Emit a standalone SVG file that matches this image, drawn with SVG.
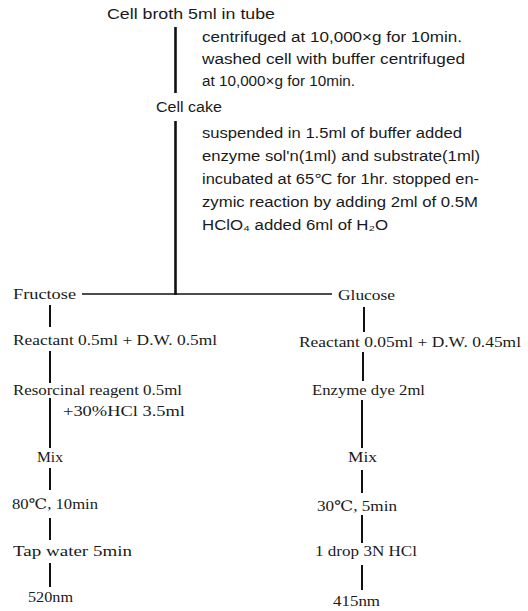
<svg xmlns="http://www.w3.org/2000/svg" width="528" height="611" viewBox="0 0 528 611">
<style>
.bg{fill:#ffffff}
.s{font-family:"Liberation Sans","DejaVu Sans",sans-serif;font-size:14px;fill:#1a1a1a}
.r{font-family:"Liberation Serif","DejaVu Serif",serif;font-size:14.5px;fill:#1a1a1a}
.c line{stroke:#111;stroke-linecap:butt}
.thick{stroke-width:2.6}
.mid{stroke-width:2}
.thin{stroke-width:1.6}
</style>
<rect class="bg" x="0" y="0" width="528" height="611"/>
<g class="c" id="connectors">
  <line class="thick" x1="175.5" y1="27" x2="175.5" y2="93"/>
  <line class="thick" x1="175.5" y1="121" x2="175.5" y2="295"/>
  <line class="thin" x1="82" y1="294" x2="332" y2="294"/>
  <line class="mid" x1="50" y1="305" x2="50" y2="327"/>
  <line class="mid" x1="50" y1="351" x2="50" y2="383"/>
  <line class="mid" x1="50" y1="398" x2="50" y2="448"/>
  <line class="mid" x1="50" y1="468" x2="50" y2="490"/>
  <line class="mid" x1="50" y1="518" x2="50" y2="540"/>
  <line class="mid" x1="50" y1="563" x2="50" y2="587"/>
  <line class="mid" x1="364" y1="307" x2="364" y2="332"/>
  <line class="mid" x1="363" y1="352" x2="363" y2="381"/>
  <line class="mid" x1="362" y1="400" x2="362" y2="448"/>
  <line class="mid" x1="362" y1="470" x2="362" y2="493"/>
  <line class="mid" x1="362" y1="515" x2="362" y2="543"/>
  <line class="mid" x1="362" y1="565" x2="362" y2="590"/>
</g>
<g id="cell-broth"><text class="s" x="107" y="19" textLength="168" lengthAdjust="spacingAndGlyphs">Cell broth 5ml in tube</text></g>
<g id="step-centrifuge">
  <text class="s" x="202" y="42" textLength="260" lengthAdjust="spacingAndGlyphs">centrifuged at 10,000×g for 10min.</text>
  <text class="s" x="202" y="64" textLength="263" lengthAdjust="spacingAndGlyphs">washed cell with buffer centrifuged</text>
  <text class="s" x="202" y="86" textLength="153" lengthAdjust="spacingAndGlyphs">at 10,000×g for 10min.</text>
</g>
<g id="cell-cake"><text class="s" x="156" y="112" textLength="66" lengthAdjust="spacingAndGlyphs">Cell cake</text></g>
<g id="step-incubate">
  <text class="s" x="202" y="138" textLength="260" lengthAdjust="spacingAndGlyphs">suspended in 1.5ml of buffer added</text>
  <text class="s" x="202" y="161" textLength="278" lengthAdjust="spacingAndGlyphs">enzyme sol'n(1ml) and substrate(1ml)</text>
  <text class="s" x="202" y="184" textLength="277" lengthAdjust="spacingAndGlyphs">incubated at 65℃ for 1hr. stopped en-</text>
  <text class="s" x="202" y="207" textLength="276" lengthAdjust="spacingAndGlyphs">zymic reaction by adding 2ml of 0.5M</text>
  <text class="s" x="202" y="230" textLength="186" lengthAdjust="spacingAndGlyphs">HClO₄ added 6ml of H₂O</text>
</g>
<g id="fructose"><text class="r" x="13" y="299" textLength="63" lengthAdjust="spacingAndGlyphs">Fructose</text></g>
<g id="glucose"><text class="r" x="338" y="300" textLength="57" lengthAdjust="spacingAndGlyphs">Glucose</text></g>
<g id="f-reactant"><text class="r" x="13" y="345" textLength="204" lengthAdjust="spacingAndGlyphs">Reactant 0.5ml + D.W. 0.5ml</text></g>
<g id="f-resorcinal">
  <text class="r" x="13" y="395" textLength="169" lengthAdjust="spacingAndGlyphs">Resorcinal reagent 0.5ml</text>
  <text class="r" x="63" y="416" textLength="122" lengthAdjust="spacingAndGlyphs">+30%HCl 3.5ml</text>
</g>
<g id="f-mix"><text class="r" x="37" y="462" textLength="26" lengthAdjust="spacingAndGlyphs">Mix</text></g>
<g id="f-heat"><text class="r" x="12" y="509" textLength="86" lengthAdjust="spacingAndGlyphs">80℃, 10min</text></g>
<g id="f-tap"><text class="r" x="13" y="556" textLength="119" lengthAdjust="spacingAndGlyphs">Tap water 5min</text></g>
<g id="f-520"><text class="r" x="28" y="602" textLength="45" lengthAdjust="spacingAndGlyphs">520nm</text></g>
<g id="g-reactant"><text class="r" x="299" y="347" textLength="222" lengthAdjust="spacingAndGlyphs">Reactant 0.05ml + D.W. 0.45ml</text></g>
<g id="g-dye"><text class="r" x="312" y="395" textLength="113" lengthAdjust="spacingAndGlyphs">Enzyme dye 2ml</text></g>
<g id="g-mix"><text class="r" x="348" y="462" textLength="29" lengthAdjust="spacingAndGlyphs">Mix</text></g>
<g id="g-heat"><text class="r" x="317" y="511" textLength="80" lengthAdjust="spacingAndGlyphs">30℃, 5min</text></g>
<g id="g-hcl"><text class="r" x="315" y="556" textLength="102" lengthAdjust="spacingAndGlyphs">1 drop 3N HCl</text></g>
<g id="g-415"><text class="r" x="333" y="606" textLength="47" lengthAdjust="spacingAndGlyphs">415nm</text></g>
</svg>
